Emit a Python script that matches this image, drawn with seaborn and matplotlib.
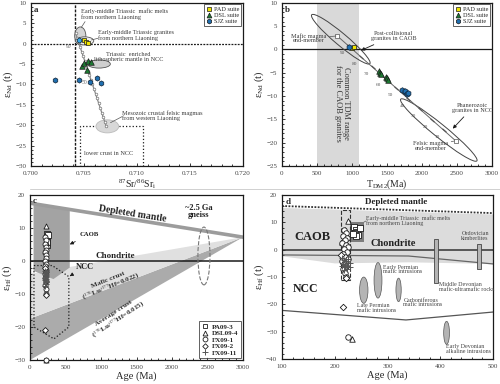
import numpy as np
import pandas as pd
import matplotlib.pyplot as plt
import seaborn as sns
from matplotlib.patches import Ellipse, Polygon, Rectangle
from matplotlib.lines import Line2D
from matplotlib.transforms import ScaledTranslation

sns.set_theme(style="ticks")
plt.rcParams['font.family'] = ['Liberation Serif', 'DejaVu Serif']
plt.rcParams['mathtext.fontset'] = 'custom'
plt.rcParams['mathtext.rm'] = 'Liberation Serif'
plt.rcParams['mathtext.it'] = 'Liberation Serif:italic'
plt.rcParams['mathtext.bf'] = 'Liberation Serif:bold'

# ---------------- data ----------------
# panel a : 87Sr/86Sr(i) vs eNd(t)
pad_sr = [0.7050, 0.7052, 0.7054]
pad_nd = [1.0, 0.5, 0.2]
dsl_sr = [0.70485, 0.70526, 0.70500, 0.70538, 0.70563]
dsl_nd = [-5.5, -6.4, -4.65, -4.2, -4.4]
sjz_sr = [0.70228, 0.70457, 0.70557, 0.70620, 0.70657]
sjz_nd = [-8.9, -8.9, -9.3, -8.5, -9.55]
sjz_mafic_sr = [0.70454]
sjz_mafic_nd = [0.9]
mix_sr = [0.70420, 0.70435, 0.70449, 0.70464, 0.70478, 0.70493, 0.70507, 0.70522,
          0.70536, 0.70551, 0.70565, 0.70580, 0.70594, 0.70609, 0.70623, 0.70638,
          0.70652, 0.70667, 0.70681, 0.70696, 0.70710]
mix_nd = [2.6, 1.5, 0.3, -0.8, -2.0, -3.1, -4.3, -5.4, -6.6, -7.7, -8.9, -10.0,
          -11.1, -12.3, -13.4, -14.6, -15.7, -16.9, -18.0, -19.2, -20.3]

# panel b : TDM2 vs eNd(t)
pad_tdm = [1000, 1030]
pad_nd_b = [0.3, 0.5]
dsl_tdm = [1380, 1400, 1420, 1480, 1500, 1520]
dsl_nd_b = [-4.6, -5.0, -5.2, -5.9, -6.2, -6.5]
sjz_tdm = [950, 1720, 1750, 1760, 1780, 1800]
sjz_nd_b = [0.6, -8.8, -9.2, -9.0, -9.5, -9.4]
end_tdm = [790, 2480]
end_nd = [2.9, -19.6]
tick_tdm = [959, 1128, 1297, 1466, 1635, 1804, 1973, 2142, 2311]
tick_nd = [0.65, -1.6, -3.85, -6.1, -8.35, -10.6, -12.85, -15.1, -17.35]
tick_lab = ['90', '80', '70', '60', '50', '40', '30', '20', '10']

# panels c and d : zircon Hf
pa_age = [236, 240, 243, 238, 245, 241, 247, 234]
pa_hf = [8.2, 7.3, 6.5, 6.0, 5.4, 4.9, 7.8, 5.6]
dsl_age = [226, 219, 222, 214, 232]
dsl_hf = [10.6, 7.3, 5.8, 3.0, -32.8]
fx1_age = [218, 222, 216, 224, 219, 214, 221, 226, 217, 223, 215, 220, 225, 213,
           218, 222, 216, 220, 222, 226]
fx1_hf = [7.3, 6.3, 5.0, 4.3, 3.4, 2.6, 1.8, 0.9, 0.1, -0.8, -1.5, -2.6, -3.3, -4.0,
          -5.2, -6.0, -7.2, -8.5, -10.0, -31.8]
fx2_age = [215, 221, 212]
fx2_hf = [-21.0, -10.4, -2.0]
fx11_age = [214, 218, 222, 226, 216, 220, 224, 228, 219, 223, 217, 221, 225, 229, 213]
fx11_hf = [-3.2, -3.8, -4.3, -4.7, -5.2, -5.6, -6.0, -5.0, -6.5, -7.0, -7.6, -4.0,
           -3.5, -6.3, -5.8]

dm_age_c = [0, 3000]
dm_hf_c = [17.5, 7.2]
mafic_crust = [(0, -17.5), (3000, 7.2), (0, -3.9)]
avg_crust = [(0, -17.5), (3000, 7.2), (0, -30.0)]
caob_c = [(50, 17.3), (560, 15.5), (560, -2.0), (330, -5.5), (50, -3.0)]
ncc_c = [(56, -1.4), (313, -1.4), (547, -4.75), (547, -20.0), (337, -23.6), (56, -20.0)]

dm_age_d = [100, 500]
dm_hf_d = [16.0, 13.4]
caob_d = [(100, 15.3), (500, 12.9), (500, -5.2), (340, -4.6), (200, -5.0), (100, -2.4)]
caob_low_age = [100, 340, 500]
caob_low_hf = [-1.9, -2.3, -5.2]
ncc_low_age = [100, 335, 500]
ncc_low_hf = [-22.2, -25.7, -22.8]

pad_c = '#f2e600'
dsl_c = '#1d7a32'
sjz_c = '#1f6fb0'
txt_c = '#3a3a3a'

fig = plt.figure(figsize=(5, 3.84), dpi=100)
ax_a = fig.add_axes([0.062, 0.568, 0.424, 0.4245])
ax_b = fig.add_axes([0.564, 0.568, 0.420, 0.4245])
ax_c = fig.add_axes([0.060, 0.0625, 0.426, 0.430])
ax_d = fig.add_axes([0.564, 0.065, 0.422, 0.427])


def style_axis(ax):
    ax.tick_params(which='both', direction='in', labelsize=5, colors='k',
                   labelcolor='#444444', width=0.6, top=False, right=False)
    ax.tick_params(which='major', length=2.5)
    ax.tick_params(which='minor', length=1.4)
    for s in ax.spines.values():
        s.set_linewidth(0.9)
        s.set_color('k')


def suite_legend(ax):
    h = [Line2D([], [], ls='', marker='s', mfc=pad_c, mec='k', ms=3.2, mew=0.5, label='PAD suite'),
         Line2D([], [], ls='', marker='^', mfc=dsl_c, mec='k', ms=3.5, mew=0.5, label='DSL suite'),
         Line2D([], [], ls='', marker='h', mfc=sjz_c, mec='k', ms=3.5, mew=0.5, label='SJZ suite')]
    leg = ax.legend(handles=h, loc='upper right', fontsize=4.5, frameon=True, fancybox=False,
                    edgecolor='k', handletextpad=0.4, borderpad=0.3, labelspacing=0.15,
                    handlelength=1.0, borderaxespad=0.25)
    leg.get_frame().set_linewidth(0.6)


def px_ellipse(ax, cx, cy, w_px, h_px, angle, **kw):
    tr = fig.dpi_scale_trans + ScaledTranslation(cx, cy, ax.transData)
    ax.add_patch(Ellipse((0, 0), w_px / 100, h_px / 100, angle=angle, transform=tr, **kw))


# ---------------- panel a ----------------
ax = ax_a
ax.set_xlim(0.700, 0.720)
ax.set_ylim(-30, 10)
ax.set_xticks(np.arange(0.700, 0.7201, 0.005))
ax.set_xticklabels(['0.700', '0.705', '0.710', '0.715', '0.720'])
ax.set_yticks(np.arange(-30, 11, 5))
ax.set_xticks(np.arange(0.700, 0.7201, 0.001), minor=True)
ax.set_yticks(np.arange(-30, 11, 1), minor=True)
style_axis(ax)
ax.axvline(0.70415, color='k', ls=(0, (2, 1)), lw=1.0, zorder=1)
ax.axhline(0, color='k', ls=(0, (1.5, 1)), lw=0.9, zorder=1)
ax.add_patch(Rectangle((0.70463, -30), 0.00595, 9.8, fill=False, ec='k', ls=':', lw=0.9, zorder=1))
ax.add_patch(Ellipse((0.70465, 1.9), 0.00105, 4.4, fc='#d4d4d4', ec='#555555', lw=0.6, zorder=2))
ax.add_patch(Ellipse((0.70507, 0.67), 0.0017, 2.0, fc='#eeeeee', ec='#555555', lw=0.6, zorder=2))
ax.add_patch(Ellipse((0.70641, -5.0), 0.00215, 2.0, fc='#cfcfcf', ec='#555555', lw=0.6, zorder=2))
ax.add_patch(Ellipse((0.70720, -20.3), 0.00215, 3.2, fc='#d8d8d8', ec='#bbbbbb', lw=0.6, zorder=2))
sns.lineplot(x=mix_sr, y=mix_nd, ax=ax, color='#8a8a8a', lw=0.9, marker='o', ms=1.9,
             mfc='white', mec='#777777', mew=0.5, zorder=3, sort=False)
sns.scatterplot(x=pad_sr, y=pad_nd, ax=ax, marker='s', color=pad_c, edgecolor='k', s=12, lw=0.5, zorder=5)
sns.scatterplot(x=dsl_sr, y=dsl_nd, ax=ax, marker='^', color=dsl_c, edgecolor='k', s=16, lw=0.5, zorder=5)
sns.scatterplot(x=sjz_sr, y=sjz_nd, ax=ax, marker='h', color=sjz_c, edgecolor='#123', s=14, lw=0.5, zorder=5)
sns.scatterplot(x=sjz_mafic_sr, y=sjz_mafic_nd, ax=ax, marker='h', color='#35a8e8', edgecolor='#123', s=14, lw=0.5, zorder=5)
ax.text(0.70357, -0.7, '90', fontsize=4, color='#666666', ha='center', va='center')
ax.text(0.7050, -9.6, '50', fontsize=4, color='#666666', ha='center', va='center')
ax.text(0.7047, 8.6, 'Early-middle Triassic  mafic melts\nfrom northern Liaoning', fontsize=4.5,
        color=txt_c, va='top', linespacing=0.95)
ax.plot([0.70475, 0.7051], [4.0, 5.4], color='#555555', lw=0.5)
ax.text(0.7063, 2.0, 'Early-middle Triassic granites\nfrom northern Liaoning', fontsize=4.5,
        color=txt_c, va='center', linespacing=0.95)
ax.plot([0.7057, 0.7063], [0.9, 1.3], color='#555555', lw=0.5)
ax.text(0.7092, -3.2, 'Triassic  enriched\nlithospheric mantle in NCC', fontsize=4.5,
        color=txt_c, va='center', ha='center', linespacing=0.95)
ax.text(0.7086, -17.7, 'Mesozoic crustal felsic magmas\nfrom western Liaoning', fontsize=4.5,
        color=txt_c, va='center', linespacing=0.95)
ax.plot([0.7075, 0.7086], [-19.4, -17.9], color='#555555', lw=0.5)
ax.text(0.70732, -26.9, 'lower crust in NCC', fontsize=4.5, color=txt_c, ha='center', va='center')
ax.text(0.7003, 9.2, 'a', fontsize=6.5, fontweight='bold', va='top')
suite_legend(ax)
ax.set_xlabel('$^{87}$Sr/$^{86}$Sr$_{\\rm i}$', fontsize=7, labelpad=1)
ax.set_ylabel('ε$_{\\rm Nd}$ (t)', fontsize=7.5, labelpad=0)

# ---------------- panel b ----------------
ax = ax_b
ax.set_xlim(0, 3000)
ax.set_ylim(-25, 10)
ax.set_xticks(np.arange(0, 3001, 500))
ax.set_yticks(np.arange(-25, 11, 5))
ax.set_xticks(np.arange(0, 3001, 100), minor=True)
ax.set_yticks(np.arange(-25, 11, 1), minor=True)
style_axis(ax)
ax.axvspan(500, 1100, color='#d9d9d9', lw=0, zorder=0)
ax.axhline(0, color='k', lw=0.9, zorder=1)
ax.text(860, -11.5, 'Common TDM range\nfor the CAOB granites', rotation=-90, fontsize=6,
        ha='center', va='center', color='#333333', linespacing=1.1)
px_ellipse(ax, 840, 2.2, 76, 12, -40, fill=False, ec='#444444', lw=0.7, zorder=2)
px_ellipse(ax, 2240, -17.3, 98, 13, -39, fill=False, ec='#444444', lw=0.7, zorder=2)
sns.lineplot(x=end_tdm, y=end_nd, ax=ax, color='#666666', lw=0.7, zorder=3, sort=False)
sns.scatterplot(x=end_tdm, y=end_nd, ax=ax, marker='s', color='white', edgecolor='#555555', s=6, lw=0.5, zorder=3)
sns.scatterplot(x=tick_tdm, y=tick_nd, ax=ax, marker=(2, 2, 48), color='#555555', s=10, lw=0.6, zorder=3)
for xx, yy, lab in zip(tick_tdm, tick_nd, tick_lab):
    ax.annotate(lab, (xx, yy), xytext=(-4.5, -5), textcoords='offset points', fontsize=3.8,
                color='#555555', ha='center', va='center')
sns.scatterplot(x=pad_tdm, y=pad_nd_b, ax=ax, marker='s', color=pad_c, edgecolor='k', s=12, lw=0.5, zorder=5)
sns.scatterplot(x=dsl_tdm, y=dsl_nd_b, ax=ax, marker='^', color=dsl_c, edgecolor='k', s=16, lw=0.5, zorder=5)
sns.scatterplot(x=sjz_tdm, y=sjz_nd_b, ax=ax, marker='h', color=sjz_c, edgecolor='#123', s=16, lw=0.5, zorder=5)
ax.annotate('Mafic magma\nend-member', xy=(790, 2.9), xytext=(380, 2.4), fontsize=4.5, color=txt_c,
            ha='center', va='center', linespacing=0.95,
            arrowprops=dict(arrowstyle='-', color='#555555', lw=0.5, shrinkA=0, shrinkB=1))
ax.annotate('Post-collisional\ngranites in CAOB', xy=(1130, -0.2), xytext=(1590, 2.9), fontsize=4.5,
            color=txt_c, ha='center', va='center', linespacing=0.95,
            arrowprops=dict(arrowstyle='-|>', color='k', lw=0.6, mutation_scale=5, shrinkA=1, shrinkB=0))
ax.annotate('Phanerozoic\ngranites in NCC', xy=(2440, -17.0), xytext=(2720, -12.5), fontsize=4.5,
            color=txt_c, ha='center', va='center', linespacing=0.95,
            arrowprops=dict(arrowstyle='-|>', color='k', lw=0.6, mutation_scale=5, shrinkA=1, shrinkB=0))
ax.annotate('Felsic magma\nend-member', xy=(2480, -19.6), xytext=(2120, -20.8), fontsize=4.5,
            color=txt_c, ha='center', va='center', linespacing=0.95,
            arrowprops=dict(arrowstyle='-', color='#555555', lw=0.5, shrinkA=0, shrinkB=1))
ax.text(40, 9.3, 'b', fontsize=6.5, fontweight='bold', va='top')
suite_legend(ax)
ax.set_xlabel('T$_{\\rm DM2}$(Ma)', fontsize=7, labelpad=1)
ax.set_ylabel('ε$_{\\rm Nd}$ (t)', fontsize=7.5, labelpad=0)


# ---------------- panels c and d ----------------
def hf_points(ax, clip_low=None, scale=1.0):
    sets = [(pa_age, pa_hf, 's', 'white', 'k'),
            (dsl_age, dsl_hf, '^', 'white', 'k'),
            (fx1_age, fx1_hf, 'o', 'white', 'k'),
            (fx2_age, fx2_hf, 'D', 'white', 'k')]
    for xs, ys, m, fc, ec in sets:
        ys = np.array(ys)
        if clip_low is not None:
            ys = np.clip(ys, clip_low, None)
        sns.scatterplot(x=xs, y=ys, ax=ax, marker=m, color=fc, edgecolor=ec,
                        s=(9 if m == 'D' else 13) * scale, lw=0.6, zorder=5, clip_on=False)
    sns.scatterplot(x=fx11_age, y=fx11_hf, ax=ax, marker='+', color='#555555', s=14 * scale, lw=0.7, zorder=6)


ax = ax_c
ax.set_xlim(0, 3000)
ax.set_ylim(-30, 20)
ax.set_xticks(np.arange(0, 3001, 500))
ax.set_yticks(np.arange(-30, 21, 10))
ax.set_xticks(np.arange(0, 3001, 100), minor=True)
ax.set_yticks(np.arange(-30, 21, 2), minor=True)
style_axis(ax)
ax.add_patch(Polygon(avg_crust, closed=True, fc='#ababab', ec='none', zorder=0))
ax.add_patch(Polygon(mafic_crust, closed=True, fc='#e0e0e0', ec='none', zorder=0))
ax.add_patch(Polygon(caob_c, closed=True, fc='#a3a3a3', ec='none', zorder=1))
sns.lineplot(x=dm_age_c, y=dm_hf_c, ax=ax, color='#9c9c9c', lw=2.6, zorder=2)
ax.axhline(0, color='k', lw=1.1, zorder=2)
ax.add_patch(Polygon(ncc_c, closed=True, fill=False, ec='k', ls=':', lw=0.9, zorder=3))
ax.add_patch(Ellipse((2450, 1.5), 170, 17.5, fill=False, ec='#777777', ls='--', lw=0.8, zorder=3))
hf_points(ax, clip_low=-30)
ax.text(1440, 14.3, 'Depleted mantle', rotation=-9, fontsize=7, fontweight='bold',
        ha='center', va='center', color='#222222')
ax.text(1200, 1.6, 'Chondrite', fontsize=6.5, fontweight='bold', ha='center', va='center', color='#222222')
ax.text(2380, 15, '~2.5 Ga\ngneiss', fontsize=6, fontweight='bold', ha='center', va='center',
        color='#222222', linespacing=0.95)
ax.annotate('CAOB', xy=(560, 5.0), xytext=(830, 8.0), fontsize=4.8, fontweight='bold',
            ha='center', va='center', color='#222222',
            arrowprops=dict(arrowstyle='-|>', color='k', lw=0.6, mutation_scale=5, shrinkA=2, shrinkB=0))
ax.annotate('NCC', xy=(560, -4.6), xytext=(770, -1.8), fontsize=6, fontweight='bold',
            ha='center', va='center', color='#222222',
            arrowprops=dict(arrowstyle='-|>', color='k', lw=0.6, mutation_scale=5, shrinkA=2, shrinkB=0))
ax.text(1120, -7.0, 'Mafic crust\n($^{176}$Lu/$^{177}$Hf=0.022)', rotation=22, fontsize=5.2,
        fontweight='bold', ha='center', va='center', color='#333333', linespacing=0.95)
ax.text(1220, -17.0, 'Average crust\n($^{176}$Lu/$^{177}$Hf=0.015)', rotation=33, fontsize=5.2,
        fontweight='bold', ha='center', va='center', color='#333333', linespacing=0.95)
ax.text(40, 19.3, 'c', fontsize=6.5, fontweight='bold', va='top')
h = [Line2D([], [], ls='', marker='s', mfc='white', mec='k', ms=3.3, mew=0.6, label='PA09-3'),
     Line2D([], [], ls='', marker='^', mfc='white', mec='k', ms=3.5, mew=0.6, label='DSL09-4'),
     Line2D([], [], ls='', marker='o', mfc='white', mec='k', ms=3.5, mew=0.6, label='FX09-1'),
     Line2D([], [], ls='', marker='D', mfc='white', mec='k', ms=2.8, mew=0.6, label='FX09-2'),
     Line2D([], [], ls='', marker='+', mfc='none', mec='#555555', ms=4, mew=0.7, label='FX09-11')]
leg = ax.legend(handles=h, loc='lower right', frameon=True, fancybox=False, edgecolor='k',
                prop={'size': 5, 'weight': 'bold'}, handletextpad=0.5, borderpad=0.35,
                labelspacing=0.1, handlelength=1.0, borderaxespad=0.25)
leg.get_frame().set_linewidth(0.6)
ax.set_xlabel('Age (Ma)', fontsize=7.5, labelpad=1)
ax.set_ylabel('ε$_{\\rm Hf}$ (t)', fontsize=7.5, labelpad=0)

ax = ax_d
ax.set_xlim(100, 500)
ax.set_ylim(-40, 20)
ax.set_xticks(np.arange(100, 501, 100))
ax.set_yticks(np.arange(-40, 21, 10))
ax.set_xticks(np.arange(100, 501, 20), minor=True)
ax.set_yticks(np.arange(-40, 21, 2), minor=True)
style_axis(ax)
ax.add_patch(Polygon(caob_d, closed=True, fc='#dcdcdc', ec='none', zorder=0))
sns.lineplot(x=dm_age_d, y=dm_hf_d, ax=ax, color='#333333', lw=1.3, ls=(0, (1, 0.8)), zorder=2)
ax.axhline(0, color='#333333', lw=1.1, zorder=2)
sns.lineplot(x=caob_low_age, y=caob_low_hf, ax=ax, color='#666666', lw=0.9, zorder=2, sort=False)
sns.lineplot(x=ncc_low_age, y=ncc_low_hf, ax=ax, color='#555555', lw=0.9, zorder=2, sort=False)
ax.add_patch(Rectangle((228, 3.0), 27, 7.0, fc='#7d7d7d', ec='none', zorder=3))
ax.add_patch(Rectangle((211, -11.0), 18, 25.5, fill=False, ec='#333333', ls='--', lw=0.8, zorder=4))
for cx, cy, w, hgt in [(282, -11.2, 15, 13.0), (255, -14.8, 16, 9.6),
                       (321, -14.7, 10, 8.6), (412, -30.4, 11, 8.4)]:
    ax.add_patch(Ellipse((cx, cy), w, hgt, fc='#b4b4b4', ec='#555555', lw=0.5, zorder=3))
ax.add_patch(Rectangle((389, -12.0), 7, 15.8, fc='#b4b4b4', ec='#444444', lw=0.6, zorder=3))
ax.add_patch(Rectangle((470, -7.2), 8, 9.2, fc='#b4b4b4', ec='#444444', lw=0.6, zorder=3))
hf_points(ax, scale=1.2)
ax.text(316, 17.3, 'Depleted mantle', fontsize=6.5, fontweight='bold', ha='center', va='center', color='#222222')
ax.text(310, 2.2, 'Chondrite', fontsize=7.5, fontweight='bold', ha='center', va='center', color='#222222')
ax.text(157, 4.5, 'CAOB', fontsize=9, fontweight='bold', ha='center', va='center', color='#222222')
ax.text(145, -14.2, 'NCC', fontsize=8.5, fontweight='bold', ha='center', va='center', color='#222222')
small = dict(fontsize=4.3, color='#444444', linespacing=0.95, va='center')
ax.text(260, 10.7, 'Early-middle Triassic  mafic melts\nfrom northern Liaoning', **small)
ax.plot([250, 259], [9.5, 10.5], color='#555555', lw=0.5)
ax.text(292, -7.2, 'Early Permian\nmafic intrusions', **small)
ax.text(242, -21.3, 'Late Permian\nmafic intrusions', **small)
ax.text(330, -19.3, 'Carboniferous\nmafic intrusions', **small)
ax.text(397, -13.6, 'Middle Devonian\nmafic-ultramafic rocks', **small)
ax.text(466, 5.0, 'Ordovician\nkimberlites', ha='center', **small)
ax.text(410, -36.4, 'Early Devonian\nalkaline intrusions', **small)
ax.text(106, 18.8, 'd', fontsize=6.5, fontweight='bold', va='top')
ax.set_xlabel('Age (Ma)', fontsize=7.5, labelpad=1)
ax.set_ylabel('ε$_{\\rm Hf}$ (t)', fontsize=7.5, labelpad=0)

fig.add_artist(Line2D([0.06, 1.0], [1 - 189 / 384] * 2, color='#d0d0d0', lw=0.7))

fig.savefig('out.png', dpi=100)
